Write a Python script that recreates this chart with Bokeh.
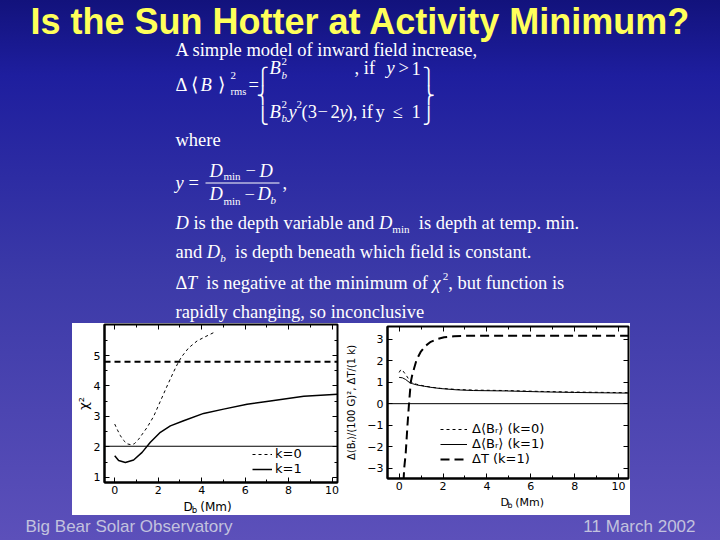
from bokeh.plotting import figure
from bokeh.layouts import column, row
from bokeh.models import (Spacer, Range1d, Legend, LegendItem, LinearAxis, FixedTicker, Span)
from bokeh.core.properties import value
from bokeh.embed import file_html
from bokeh.resources import INLINE

# ---------------- data ----------------
title_text = "Is the Sun Hotter at Activity Minimum?"
footer_left = "Big Bear Solar Observatory"
footer_right = "11 March 2002"

# left panel: chi^2 versus D_b
chi_x_ticks = [0, 2, 4, 6, 8, 10]
chi_x_minor = [1, 3, 5, 7, 9]
chi_y_ticks = [1, 2, 3, 4, 5]
chi_y_minor = [1.5, 2.5, 3.5, 4.5, 5.5]
chi2_k0_x = [0, 0.13, 0.26, 0.4, 0.57, 0.75, 0.9, 1.1, 1.3, 1.5, 1.79, 2.1, 2.41, 2.7, 2.94, 3.1, 3.4, 3.79, 4.2, 4.6]
chi2_k0_y = [2.75, 2.55, 2.37, 2.22, 2.10, 2.07, 2.10, 2.25, 2.45, 2.65, 3.0, 3.5, 4.0, 4.45, 4.8, 4.98, 5.25, 5.48, 5.63, 5.77]
chi2_k1_x = [0, 0.18, 0.49, 0.87, 1.26, 1.64, 2.1, 2.56, 3.17, 4.09, 5.01, 6.09, 7.16, 8.7, 10.25]
chi2_k1_y = [1.71, 1.55, 1.49, 1.57, 1.82, 2.15, 2.48, 2.69, 2.86, 3.10, 3.24, 3.40, 3.51, 3.66, 3.73]
chi2_k0_level = 4.8
chi2_k1_level = 2.02

# right panel: field change and temperature change versus D_b
db_x_ticks = [0, 2, 4, 6, 8, 10]
db_x_minor = [1, 3, 5, 7, 9]
db_y_ticks = [-3, -2, -1, 0, 1, 2, 3]
dB_k0_x = [0, 0.08, 0.15, 0.3, 0.45, 0.6, 0.8, 1.14, 1.5, 1.9, 2.65, 3.4, 4.9, 6.4, 8, 10.45]
dB_k0_y = [1.45, 1.58, 1.55, 1.35, 1.12, 0.98, 0.9, 0.82, 0.76, 0.71, 0.66, 0.63, 0.61, 0.57, 0.54, 0.51]
dB_k1_x = [0, 0.15, 0.3, 0.45, 0.6, 0.8, 1.14, 1.5, 1.9, 2.65, 3.4, 4.9, 6.4, 8, 10.45]
dB_k1_y = [1.22, 1.2, 1.12, 1.0, 0.93, 0.87, 0.81, 0.75, 0.70, 0.64, 0.61, 0.59, 0.55, 0.52, 0.49]
dT_k1_x = [0.2, 0.23, 0.3, 0.38, 0.45, 0.53, 0.6, 0.68, 0.8, 0.98, 1.2, 1.44, 1.75, 2.05, 2.5, 3.0, 10.45]
dT_k1_y = [-3.6, -3.0, -2.3, -1.0, 0.0, 1.0, 1.35, 1.63, 2.05, 2.4, 2.68, 2.87, 3.0, 3.08, 3.13, 3.15, 3.15]

legend_left = ["k=0", "k=1"]
legend_right = ["\u0394\u27e8B\u1d63\u27e9 (k=0)", "\u0394\u27e8B\u1d63\u27e9 (k=1)", "\u0394T (k=1)"]
ylabel_left = "\u03c7\u00b2"
ylabel_right = "\u0394\u27e8B\u1d63\u27e9/(100 G)\u00b2, \u0394T/(1 k)"
xlabel_parts = ["D", "b", "(Mm)"]

# ---------------- page background ----------------
BG = "linear-gradient(to bottom, #12127c 0%, #1e1e9e 14%, #3c3aa8 52%, #5c50ba 100%)"
sheets = []
try:
    from bokeh.models import GlobalInlineStyleSheet
    sheets = [GlobalInlineStyleSheet(css="html{height:100%;background:%s no-repeat;} body{background:transparent;}" % BG)]
except Exception:
    sheets = []

SERIF = "Liberation Serif"
SANS = "Liberation Sans"
PLOTF = "DejaVu Sans"

# Times-compatible advance widths (em)
TNR = {' ': .25, ',': .25, '.': .25, 'a': .444, 'b': .5, 'c': .444, 'd': .5, 'e': .444, 'f': .333,
       'g': .5, 'h': .5, 'i': .278, 'j': .278, 'k': .5, 'l': .278, 'm': .778, 'n': .5, 'o': .5,
       'p': .5, 'q': .5, 'r': .333, 's': .389, 't': .278, 'u': .5, 'v': .5, 'w': .722, 'x': .5,
       'y': .5, 'z': .444, 'A': .722, 'D': .722, 'T': .611, '\u0394': .612, '2': .5}
TNR_I = {'D': .722, 'T': .556, 'y': .444, 'b': .5, 'B': .611, '\u03c7': .55}

BASE_SHIFT = 0.3   # rendered alphabetic baseline sits ~0.3em low; compensate


def tw(s, size, italic=False):
    tbl = TNR_I if italic else TNR
    return sum(tbl.get(c, TNR.get(c, .5)) for c in s) * size


def put(fig, x, y, s, size, color="white", font=SERIF, style="normal", align="left", baseline="alphabetic"):
    if baseline == "alphabetic":
        y = y - BASE_SHIFT * size
    fig.text(x=[x], y=[y], text=[s], text_font=value(font), text_font_size="%.1fpx" % size,
             text_font_style=style, text_color=color, text_align=align, text_baseline=baseline)


def flow(fig, x, y, segs, size=18.5):
    for s, k in segs:
        it = k in ("i", "si")
        sz = size if k in ("n", "i") else size * 0.6
        yy = y + (4 if k in ("sn", "si") else (-9 if k == "sp" else 0))
        lead = len(s) - len(s.lstrip(" "))
        put(fig, x + lead * 0.25 * sz, yy, s.strip(), sz, style="italic" if it else "normal")
        x += tw(s, sz, it)


def blank(w, h, x0, x1, y_bottom, y_top, fill=None):
    f = figure(width=w, height=h, x_range=Range1d(x0, x1), y_range=Range1d(y_bottom, y_top),
               x_axis_type=None, y_axis_type=None, output_backend="svg", toolbar_location=None,
               min_border=0)
    f.grid.visible = False
    f.outline_line_color = None
    f.background_fill_color = fill
    f.border_fill_color = fill
    return f


# ---------------- title + text block ----------------
tf = blank(720, 323, 0, 720, 323, 0)

put(tf, 360, 31.5, title_text, 36, color="#ffff5a", font=SANS, style="bold", align="center")

FS = 18.5
put(tf, 175, 55, "A simple model of inward field increase,", FS)

# Delta<B>^2_rms = { ... }
put(tf, 175, 90, "\u0394", FS)
put(tf, 190, 90, "\u27e8", FS)
put(tf, 200, 90, "B", FS, style="italic")
put(tf, 217, 90, "\u27e9", FS)
put(tf, 230, 78, "2", 11)
put(tf, 230, 94, "rms", 10.5)
put(tf, 248, 90, "=", FS)
for ch, yb in (("\u23a7", 80.5), ("\u23a8", 100), ("\u23a9", 119.5)):
    put(tf, 256, yb, ch, 16.5, font=PLOTF)
for ch, yb in (("\u23ab", 80.5), ("\u23ac", 100), ("\u23ad", 119.5)):
    put(tf, 422, yb, ch, 16.5, font=PLOTF)
# top row
put(tf, 269, 73.5, "B", FS, style="italic")
put(tf, 281, 64, "2", 11)
put(tf, 281, 77.5, "b", 11, style="italic")
put(tf, 354, 73.5, ", if", FS)
put(tf, 386, 73.5, "y", FS, style="italic")
put(tf, 398, 73.5, ">", FS)
put(tf, 411, 73.5, "1", FS)
# bottom row
put(tf, 269, 117, "B", FS, style="italic")
put(tf, 281, 107.5, "2", 11)
put(tf, 281, 121, "b", 11, style="italic")
put(tf, 288, 117, "y", FS, style="italic")
put(tf, 296, 107.5, "2", 11)
put(tf, 301, 117, "(3", FS)
put(tf, 317, 117, "\u2212", FS)
put(tf, 330, 117, "2", FS)
put(tf, 339, 117, "y", FS, style="italic")
put(tf, 346, 117, "),", FS)
put(tf, 361, 117, "if", FS)
put(tf, 375, 117, "y", FS)
put(tf, 392, 117, "\u2264", FS)
put(tf, 411, 117, "1", FS)

put(tf, 175, 145.5, "where", FS)

# y = (Dmin - D)/(Dmin - Db),
put(tf, 175, 188, "y", FS, style="italic")
put(tf, 188, 188, "=", FS)
put(tf, 209, 176, "D", FS, style="italic")
put(tf, 223, 179, "min", 11)
put(tf, 245, 176, "\u2212", FS)
put(tf, 259, 176, "D", FS, style="italic")
tf.segment(x0=[205], y0=[182.5], x1=[279], y1=[182.5], line_color="white", line_width=1)
put(tf, 209, 199.5, "D", FS, style="italic")
put(tf, 223, 203.5, "min", 11)
put(tf, 244, 199.5, "\u2212", FS)
put(tf, 257, 199.5, "D", FS, style="italic")
put(tf, 270, 202.5, "b", 11, style="italic")
put(tf, 282, 188, ",", FS)

flow(tf, 175, 228, [("D", "i"), (" is the depth variable and ", "n"), ("D", "i"), ("min", "sn"),
                    ("  is depth at temp. min.", "n")])
flow(tf, 175, 257, [("and ", "n"), ("D", "i"), ("b", "si"), ("  is depth beneath which field is constant.", "n")])
flow(tf, 175, 288, [("\u0394", "n"), ("T", "i"), ("  is negative at the minimum of ", "n"), ("\u03c7", "i"),
                    ("2", "sp"), (", but function is", "n")])
flow(tf, 175, 317, [("rapidly changing, so inconclusive", "n")])


# ---------------- plot helpers ----------------
def style_plot(p, xt, xm, yt, ym, ylab, ylab_size, ylab_standoff, ytick_standoff):
    p.background_fill_color = "white"
    p.border_fill_color = "white"
    p.grid.visible = False
    p.outline_line_color = "black"
    p.outline_line_width = 2
    p.xaxis.ticker = FixedTicker(ticks=xt, minor_ticks=xm)
    p.yaxis.ticker = FixedTicker(ticks=yt, minor_ticks=ym)
    for ax in list(p.xaxis) + list(p.yaxis):
        ax.axis_line_width = 2
        ax.axis_line_color = "black"
        ax.major_tick_in = 5
        ax.major_tick_out = 0
        ax.minor_tick_in = 3
        ax.minor_tick_out = 0
        ax.major_tick_line_color = "black"
        ax.minor_tick_line_color = "black"
        ax.major_label_text_font = PLOTF
        ax.major_label_text_font_size = "11px"
        ax.major_label_text_color = "black"
    p.xaxis.major_label_standoff = 3
    p.yaxis.major_label_standoff = ytick_standoff
    p.yaxis.axis_label = ylab
    p.yaxis.axis_label_text_font = PLOTF
    p.yaxis.axis_label_text_font_size = ylab_size
    p.yaxis.axis_label_text_font_style = "normal"
    p.yaxis.axis_label_text_color = "black"
    p.yaxis.axis_label_standoff = ylab_standoff
    for side, t, m in (("above", xt, xm), ("right", yt, ym)):
        ax = LinearAxis(ticker=FixedTicker(ticks=t, minor_ticks=m), major_tick_in=5, major_tick_out=0,
                        minor_tick_in=3, minor_tick_out=0, axis_line_color=None,
                        major_label_text_color=None, major_label_text_font_size="0px",
                        major_label_standoff=0)
        p.add_layout(ax, side)


def label_strip(w, h, x0, x1, y_bottom, y_top, xl, yc, size):
    s = blank(w, h, x0, x1, y_bottom, y_top, fill="white")
    put(s, xl, yc, xlabel_parts[0], size, color="black", font=PLOTF, baseline="middle")
    put(s, xl + 0.77 * size, yc + 2.5, xlabel_parts[1], size * 0.72, color="black", font=PLOTF,
        baseline="middle")
    put(s, xl + 1.6 * size, yc, xlabel_parts[2], size, color="black", font=PLOTF, baseline="middle")
    return s


# ---------------- left panel ----------------
p1 = figure(width=268, height=177, x_range=Range1d(-0.47, 10.25), y_range=Range1d(0.83, 6.02),
            output_backend="svg", toolbar_location=None,
            min_border_left=32, min_border_right=3, min_border_top=1, min_border_bottom=18)
style_plot(p1, chi_x_ticks, chi_x_minor, chi_y_ticks, chi_y_minor, ylabel_left, "13px", 0, 4)
p1.add_layout(Span(location=chi2_k0_level, dimension="width", line_color="black",
                   line_width=2, line_dash="6 4"))
p1.add_layout(Span(location=chi2_k1_level, dimension="width", line_color="black", line_width=1.2))
r_k0 = p1.line(chi2_k0_x, chi2_k0_y, line_color="black", line_width=1, line_dash="3 3")
r_k1 = p1.line(chi2_k1_x, chi2_k1_y, line_color="black", line_width=1.5)
leg1 = Legend(items=[LegendItem(label=legend_left[0], renderers=[r_k0]),
                     LegendItem(label=legend_left[1], renderers=[r_k1])],
              location=(148, 6), background_fill_alpha=0, border_line_alpha=0,
              label_text_font=PLOTF, label_text_font_size="13px", label_text_color="black",
              glyph_width=20, glyph_height=12, label_height=12, label_standoff=3, spacing=0,
              padding=0, margin=0)
p1.add_layout(leg1)
s1 = label_strip(268, 15, 72, 340, 515, 500, 163, 506.5, 12)

# ---------------- right panel ----------------
p2 = figure(width=290, height=172, x_range=Range1d(-0.53, 10.45), y_range=Range1d(-3.47, 3.58),
            output_backend="svg", toolbar_location=None,
            min_border_left=47, min_border_right=2, min_border_top=3, min_border_bottom=17)
style_plot(p2, db_x_ticks, db_x_minor, db_y_ticks, [], ylabel_right, "10px", 7, 4)
p2.add_layout(Span(location=0, dimension="width", line_color="black", line_width=1))
q_k0 = p2.line(dB_k0_x, dB_k0_y, line_color="black", line_width=1, line_dash="3 3")
q_k1 = p2.line(dB_k1_x, dB_k1_y, line_color="black", line_width=1)
q_dT = p2.line(dT_k1_x, dT_k1_y, line_color="black", line_width=2, line_dash="9 5")
leg2 = Legend(items=[LegendItem(label=legend_right[0], renderers=[q_k0]),
                     LegendItem(label=legend_right[1], renderers=[q_k1]),
                     LegendItem(label=legend_right[2], renderers=[q_dT])],
              location=(53, 12), background_fill_alpha=0, border_line_alpha=0,
              label_text_font=PLOTF, label_text_font_size="13px", label_text_color="black",
              glyph_width=27, glyph_height=12, label_height=12, label_standoff=5, spacing=0,
              padding=0, margin=0)
p2.add_layout(leg2)
s2 = label_strip(290, 20, 340, 630, 515, 495, 476, 502, 11)

# ---------------- footer ----------------
ff = blank(720, 25, 0, 720, 540, 515)
put(ff, 25, 531, footer_left, 17, color="#c2c2de", font=SANS)
put(ff, 695, 531, footer_right, 17, color="#c2c2de", font=SANS, align="right")

plots = row(column(p1, s1), column(p2, s2), styles={"background": "white"})
page = column(tf,
              row(Spacer(width=72, height=192), plots, Spacer(width=90, height=192)),
              ff, stylesheets=sheets, styles={"background": BG})

open("out.html", "w").write(file_html(page, INLINE, title="Is the Sun Hotter at Activity Minimum?"))
